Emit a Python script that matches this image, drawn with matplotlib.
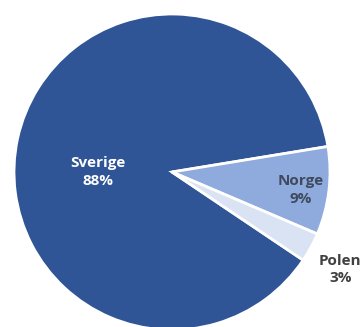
import matplotlib.pyplot as plt
import numpy as np

countries = ['Sverige', 'Norge', 'Polen']
shares = [88, 9, 3]
colors = ['#2f5597', '#8faadc', '#dae3f3']
text_colors = ['white', '#3f4a5e', '#404040']

# label centres as (radius, angle) in pie units
label_pos = [(0.47, 180.0), (0.82, -8.0), (1.23, -30.0)]

fig = plt.figure(figsize=(3.64, 3.27), dpi=100)
ax = fig.add_axes([0, 0, 1, 1])

wedges, _ = ax.pie(shares, colors=colors, startangle=326.1, counterclock=False,
                   radius=1.0, wedgeprops=dict(edgecolor='white', linewidth=2))

for name, val, (r, ang), tc in zip(countries, shares, label_pos, text_colors):
    x = r * np.cos(np.radians(ang))
    y = r * np.sin(np.radians(ang))
    ax.text(x, y, f'{name}\n{val}%', ha='center', va='center', color=tc,
            fontsize=11, fontweight='bold', family='Open Sans', linespacing=1.3)

ax.set_xlim(-172 / 158, 192 / 158)
ax.set_ylim(-155 / 158, 172 / 158)
ax.set_aspect('equal')
ax.axis('off')

fig.savefig('out.png', dpi=100)
